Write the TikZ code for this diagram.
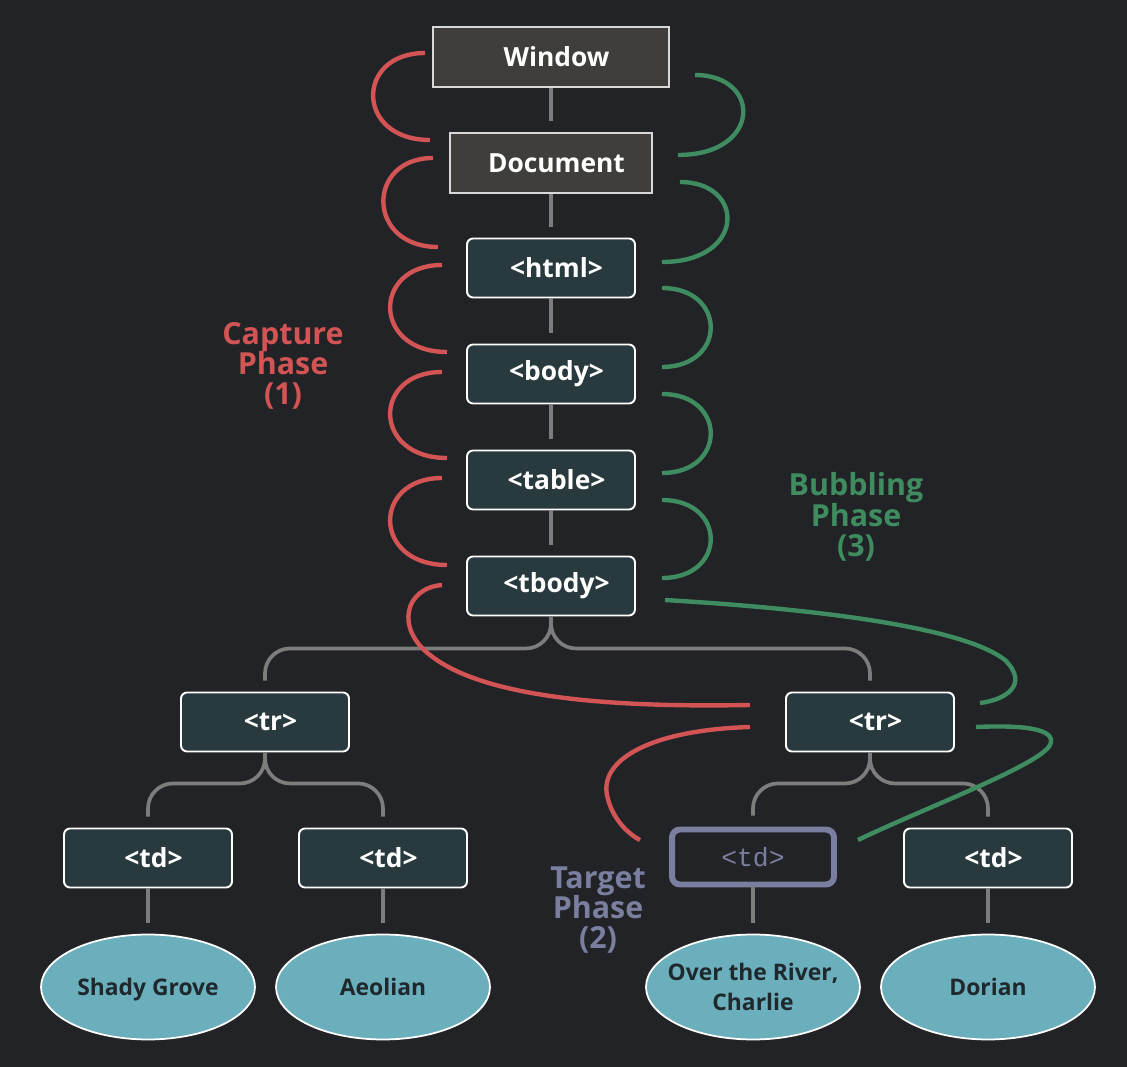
\documentclass[tikz,border=0pt]{standalone}
\usepackage{fontspec}
\setmainfont{Open Sans}
\newfontfamily\tdmono{Liberation Mono}
\usetikzlibrary{shapes.geometric}
\definecolor{bgcol}{HTML}{222327}
\definecolor{wincol}{HTML}{3F3E3B}
\definecolor{tagcol}{HTML}{293A3F}
\definecolor{leafcol}{HTML}{6AAFBB}
\definecolor{leaftext}{HTML}{1F282C}
\definecolor{capcol}{HTML}{D35454}
\definecolor{bubcol}{HTML}{3F8C60}
\definecolor{tgtcol}{HTML}{7A7E9F}
\definecolor{linkcol}{HTML}{7D7D7D}
\tikzset{
	winbox/.style={draw=white!85!black, fill=wincol, line width=1.1pt, minimum height=1.2cm,
		text=white, font=\bfseries\fontsize{15}{18}\selectfont,
		execute at begin node={\hspace*{0.22cm}}},
	tagbox/.style={winbox, draw=white, fill=tagcol, rounded corners=0.12cm,
		minimum width=3.36cm, minimum height=1.18cm},
	leaf/.style={ellipse, draw=white, fill=leafcol, line width=1pt, inner xsep=-0.3cm,
		inner ysep=0pt, text depth=0pt, minimum width=4.28cm, minimum height=2.1cm,
		text=leaftext, align=center, font=\bfseries\fontsize{13}{17.2}\selectfont},
	target/.style={draw=tgtcol, line width=3.4pt, rounded corners=0.16cm,
		minimum width=3.24cm, minimum height=1.1cm, text=tgtcol,
		font=\tdmono\fontsize{15}{18}\selectfont},
	link/.style={draw=linkcol, line width=2.1pt, shorten >=0.22cm},
	capture/.style={draw=capcol, line width=2.5pt},
	bubble/.style={draw=bubcol, line width=2.5pt},
	phase/.style={font=\bfseries\fontsize{17.3}{17.3}\selectfont, align=center}
}
\begin{document}
\begin{tikzpicture}[x=0.02cm,y=-0.02cm]
	\fill[bgcol] (0,0) rectangle (1127,1067);
	% document chain
	\node[winbox, minimum width=4.72cm] (win) at (551,57) {Window};
	\node[winbox, minimum width=4.04cm] (doc) at (551,163) {Document};
	\node[tagbox] (html) at (551,268) {<html>};
	\node[tagbox] (body) at (551,374) {<body>};
	\node[tagbox] (table) at (551,480) {<table>};
	\node[tagbox] (tbody) at (551,586) {<tbody>};
	% rows and cells
	\node[tagbox] (trL) at (265,722) {<tr>};
	\node[tagbox] (trR) at (870,722) {<tr>};
	\node[tagbox] (td1) at (148,858) {<td>};
	\node[tagbox] (td2) at (383,858) {<td>};
	\node[target] (td3) at (753,857) {<td>};
	\node[tagbox] (td4) at (988,858) {<td>};
	\node[leaf] (shady) at (148,987) {Shady Grove};
	\node[leaf] (aeolian) at (383,987) {Aeolian};
	\node[leaf] (river) at (753,987) {Over the River,\\Charlie};
	\node[leaf] (dorian) at (988,987) {Dorian};
	% links
	\draw[link] (win) -- (doc);
	\draw[link] (doc) -- (html);
	\draw[link] (html) -- (body);
	\draw[link] (body) -- (table);
	\draw[link] (table) -- (tbody);
	\draw[link, rounded corners=0.5cm] (tbody.south) -- ++(0,32) -| (trL.north);
	\draw[link, rounded corners=0.5cm] (tbody.south) -- ++(0,32) -| (trR.north);
	\draw[link, rounded corners=0.5cm] (trL.south) -- ++(0,31) -| (td1.north);
	\draw[link, rounded corners=0.5cm] (trL.south) -- ++(0,31) -| (td2.north);
	\draw[link, rounded corners=0.5cm] (trR.south) -- ++(0,31) -| (td3.north);
	\draw[link, rounded corners=0.5cm] (trR.south) -- ++(0,31) -| (td4.north);
	\draw[link] (td1) -- (shady);
	\draw[link] (td2) -- (aeolian);
	\draw[link] (td3) -- (river);
	\draw[link] (td4) -- (dorian);
	% capture phase
	\foreach \xs/\ys/\xe/\ye/\c in {425/53/430/140/355, 433/158/438/247/366,
		442/265/447/352/372, 442/372/447/458/372, 442/478/447/565/372}
		\draw[capture] (\xs,\ys) .. controls (\c,\ys) and (\c,\ye) .. (\xe,\ye);
	\draw[capture] (442,585) .. controls (405,588) and (395,628) .. (430,655)
		.. controls (490,703) and (640,707) .. (750,705);
	\draw[capture] (750,727) .. controls (650,730) and (600,760) .. (607,795)
		.. controls (612,820) and (630,835) .. (640,840);
	% bubbling phase
	\foreach \xs/\ys/\xe/\ye/\c in {695/75/678/155/762, 680/182/662/262/746,
		662/288/662/367/727, 662/394/662/473/727, 662/500/662/578/727}
		\draw[bubble] (\xs,\ys) .. controls (\c,\ys) and (\c,\ye) .. (\xe,\ye);
	\draw[bubble] (665,600) .. controls (800,608) and (960,625) .. (1005,660)
		.. controls (1030,685) and (1005,700) .. (980,703);
	\draw[bubble] (976,727) .. controls (1020,725) and (1058,728) .. (1050,745)
		.. controls (1040,765) and (920,810) .. (858,840);
	% phase labels
	\node[phase, text=capcol] (caplabel) at (283,366) {Capture\\Phase\\(1)};
	\node[phase, text=bubcol] (bublabel) at (856,517) {Bubbling\\Phase\\(3)};
	\node[phase, text=tgtcol] (tgtlabel) at (598,910) {Target\\Phase\\(2)};
\end{tikzpicture}
\end{document}
